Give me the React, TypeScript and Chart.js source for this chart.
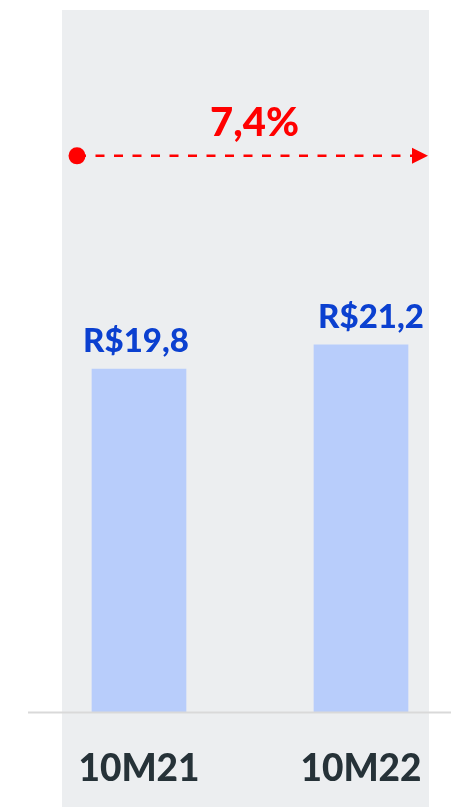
import React, { useEffect, useRef } from "react";
import { Chart, registerables } from "chart.js";

Chart.register(...registerables);

const categories: string[] = ["10M21", "10M22"];
const values: number[] = [19.8, 21.2];
const valueLabels: string[] = ["R$19,8", "R$21,2"];
const labelShift: number[] = [-3, 10];
const growthLabel = "7,4%";
const arrowLevel = 32.1;
const yMax = 40;

const FONT = "Lato, 'Noto Sans', sans-serif";

const decor = {
  id: "decor",
  beforeDraw(chart: any) {
    const { ctx, scales } = chart;
    const x0 = scales.x.getPixelForValue(0);
    const x1 = scales.x.getPixelForValue(1);
    const left = x0 - 77;
    const right = x1 + 68;
    ctx.save();
    ctx.fillStyle = "#eceef0";
    ctx.fillRect(left, 10, right - left, chart.height - 10);
    ctx.restore();
  },
  afterDatasetsDraw(chart: any) {
    const { ctx, scales, chartArea } = chart;
    const x0 = scales.x.getPixelForValue(0);
    const x1 = scales.x.getPixelForValue(1);
    ctx.save();
    // axis line
    ctx.strokeStyle = "#d9d9d9";
    ctx.lineWidth = 2;
    ctx.beginPath();
    ctx.moveTo(x0 - 111, chartArea.bottom + 0.5);
    ctx.lineTo(chart.width, chartArea.bottom + 0.5);
    ctx.stroke();

    // value labels
    const meta = chart.getDatasetMeta(0);
    ctx.fillStyle = "#0b40d0";
    ctx.font = `900 33px ${FONT}`;
    ctx.textAlign = "center";
    ctx.textBaseline = "alphabetic";
    meta.data.forEach((bar: any, i: number) => {
      ctx.fillText(valueLabels[i], bar.x + labelShift[i], bar.y - 17);
    });

    // growth arrow
    const yA = scales.y.getPixelForValue(arrowLevel);
    const start = x0 - 62;
    const tip = x1 + 67;
    ctx.strokeStyle = "#ff0000";
    ctx.fillStyle = "#ff0000";
    ctx.lineWidth = 2.5;
    ctx.setLineDash([9, 9.5]);
    ctx.beginPath();
    ctx.moveTo(start, yA);
    ctx.lineTo(tip - 16, yA);
    ctx.stroke();
    ctx.setLineDash([]);
    ctx.beginPath();
    ctx.arc(start, yA, 8.5, 0, Math.PI * 2);
    ctx.fill();
    ctx.beginPath();
    ctx.moveTo(tip - 16, yA - 8);
    ctx.lineTo(tip, yA);
    ctx.lineTo(tip - 16, yA + 8);
    ctx.closePath();
    ctx.fill();

    ctx.font = `900 40px ${FONT}`;
    ctx.textAlign = "center";
    ctx.fillText(growthLabel, (start + tip) / 2 + 2, yA - 20);
    ctx.restore();
  },
};

export default function App() {
  const ref = useRef<HTMLCanvasElement | null>(null);
  useEffect(() => {
    if (!ref.current) return;
    const chart = new Chart(ref.current, {
      type: "bar",
      data: {
        labels: categories,
        datasets: [
          {
            data: values,
            backgroundColor: "#b8cdfb",
            borderWidth: 0,
            barThickness: 94,
            clip: false,
          },
        ],
      },
      options: {
        animation: false,
        responsive: false,
        layout: { padding: { left: 139, right: 90, top: 19, bottom: 16 } },
        plugins: {
          legend: { display: false },
          tooltip: { enabled: false },
        },
        scales: {
          x: {
            offset: false,
            grid: { display: false, drawTicks: false },
            border: { display: false },
            afterFit: (scale: any) => {
              scale.height = 79;
              scale.paddingLeft = 0;
              scale.paddingRight = 0;
            },
            ticks: {
              padding: 35,
              color: "#263238",
              font: { family: FONT, weight: 900, size: 37 },
              maxRotation: 0,
              autoSkip: false,
            },
          },
          y: {
            display: false,
            min: 0,
            max: yMax,
          },
        },
      },
      plugins: [decor],
    });
    return () => chart.destroy();
  }, []);
  return (
    <div style={{ position: "absolute", left: 0, top: 0, width: 451, height: 807 }}>
      <canvas ref={ref} width={451} height={807} style={{ display: "block" }} />
    </div>
  );
}
